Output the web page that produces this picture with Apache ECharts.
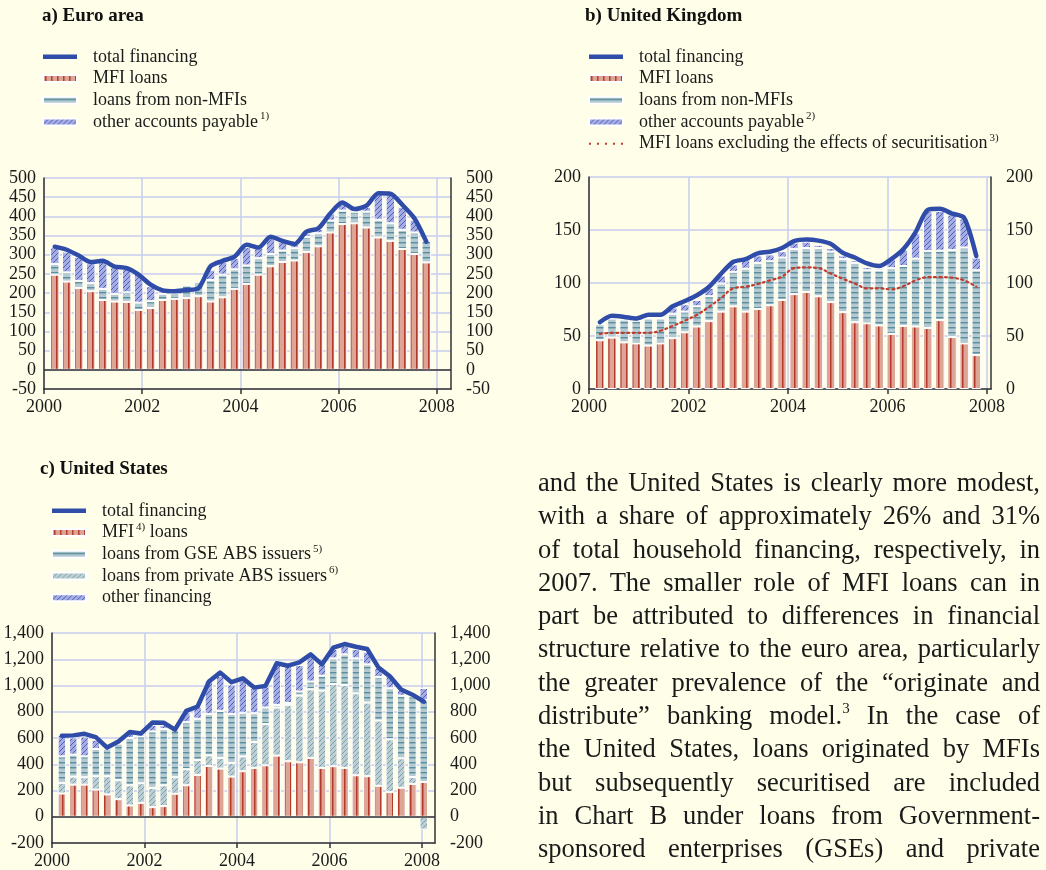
<!DOCTYPE html>
<html>
<head>
<meta charset="utf-8">
<script src="https://cdn.jsdelivr.net/npm/echarts@6/dist/echarts.min.js"></script>
<style>
html,body{margin:0;padding:0;background:#fffee9;overflow:hidden;width:1046px;height:870px;}
#chart{position:absolute;left:0;top:0;width:1046px;height:870px;}
#text{position:absolute;left:538px;top:466px;width:502px;font-family:"Liberation Serif","Times New Roman",serif;font-size:26.5px;line-height:33.3px;color:#1a1a1a;}
#text div{text-align:justify;text-align-last:justify;height:33.3px;overflow:visible;}
#text sup{font-size:15px;line-height:0;vertical-align:11px;}
</style>
</head>
<body>
<div id="chart"></div>
<div id="text">
<div>and the United States is clearly more modest,</div>
<div>with a share of approximately 26% and 31%</div>
<div>of total household financing, respectively, in</div>
<div>2007. The smaller role of MFI loans can in</div>
<div>part be attributed to differences in financial</div>
<div>structure relative to the euro area, particularly</div>
<div>the greater prevalence of the “originate and</div>
<div>distribute” banking model.<sup>3</sup> In the case of</div>
<div>the United States, loans originated by MFIs</div>
<div>but subsequently securitised are included</div>
<div>in Chart B under loans from Government-</div>
<div>sponsored enterprises (GSEs) and private</div>
<div>issuers of asset-backed securities (ABS).</div>
</div>
<script>
// ---------- categories ----------
const quartersAB = [];
for (let y = 2000; y <= 2007; y++) for (let q = 1; q <= 4; q++) quartersAB.push(y + 'Q' + q);
const quartersC = quartersAB.concat(['2008Q1']);
const yearTicks = [2000, 2002, 2004, 2006, 2008];

// ---------- a) Euro area ----------
const euroMFI    = [248,230,213,205,182,178,177,156,161,182,185,187,192,178,189,211,224,248,270,281,285,307,322,358,380,382,371,345,336,315,302,280];
const euroNonMFI = [28,24,19,21,29,20,25,19,18,16,15,33,36,56,59,51,48,43,32,30,32,39,34,31,35,30,41,46,46,50,56,56];
const euroOther  = [43,54,63,52,71,69,61,75,39,7,5,-6,-6,27,34,29,48,28,41,23,11,10,11,19,21,7,13,67,76,60,33,-6];
const euroTotal  = [321,313,298,281,284,269,265,248,222,207,205,208,213,270,284,295,326,319,347,336,328,360,369,408,436,419,428,460,459,430,395,334];

// ---------- b) United Kingdom ----------
const ukMFI     = [46,48.5,44,43,41,43,48,53.5,59,64,73,78,73,75.5,79,84,89.5,91.5,87.5,82,72.5,63,62,60,52,59.5,59,57.5,65,49,43,32];
const ukNonMFI  = [15,18,21.5,21.5,25.5,23.5,23,19.5,19,23.5,26.5,32.5,40.5,43.5,41.5,40,42.5,41.5,45.5,47.5,50,56,50,52,62,56.5,64,72.5,65.5,82,90.5,80];
const ukOther   = [0.5,2.5,1,1,1,1.5,6,7,6,8,7.5,7,9,7,6.5,6,6,6,3,3.5,3.5,2.5,3,2,8.5,15.5,24,38,37.5,33.5,27.5,12];
const ukTotal   = [63,69,68,66.5,70,70,78,83,88.5,96.5,109,120,122.5,128,129.5,133,139.5,141,140,137,128.5,124,118.5,116,122.5,132,148,169,170,165.5,161.5,125.5];
const ukMFIexSec= [52,53,53,53,53,55,59.5,64.5,70,77.5,86,95,96.5,99,102.5,106,114,114.7,114,109,104,99.5,95,95,94,97,102.5,105.5,105.5,105,102.5,96.5];

// ---------- c) United States ----------
const usMFI     = [177,245,245,207,170,134,86,106,73,81,175,240,319,387,367,306,347,372,392,466,423,415,448,372,385,372,316,309,236,188,221,250,265];
const usPrivate = [81,61,56,102,139,144,154,150,147,159,126,122,114,81,81,104,113,197,314,366,430,508,523,589,627,632,625,561,497,402,225,53,-98];
const usGSE     = [202,167,159,207,210,279,360,356,430,428,362,359,313,314,359,372,332,220,126,20,14,31,59,114,195,233,266,291,331,389,476,614,625];
const usOther   = [165,132,152,71,8,10,40,20,50,30,3,80,94,260,265,227,258,190,160,316,296,202,202,86,71,66,71,96,70,100,42,10,91];
const usTotal   = [617,620,632,607,527,574,645,635,718,716,664,807,840,1030,1098,1025,1055,984,997,1169,1151,1176,1237,1161,1288,1316,1295,1278,1136,1070,970,930,878];

// ---------- helpers ----------
const FONT = '"Liberation Serif","Times New Roman",serif';
const T0 = Date.UTC(2000, 0, 1);
const YEAR_MS = 365.25 * 86400000;
function toTime(t) { return T0 + (t - 2000) * YEAR_MS; }
function quarterPos(label) {
  const y = +label.slice(0, 4), q = +label.slice(5);
  return toTime(y + (q - 1) * 0.25 + 0.125);
}
function pair(arr, qs) { return arr.map((v, i) => [quarterPos(qs[i]), v]); }

function makePattern(w, h, base, marks) {
  const c = document.createElement('canvas');
  c.width = w; c.height = h;
  const ctx = c.getContext('2d');
  ctx.fillStyle = base; ctx.fillRect(0, 0, w, h);
  for (let x = 0; x < w; x++) for (let y = 0; y < h; y++) {
    const col = marks(x, y);
    if (col) { ctx.fillStyle = col; ctx.fillRect(x, y, 1, 1); }
  }
  return { image: c, repeat: 'repeat' };
}
const patMFI = makePattern(6, 2, '#dca595', (x) => x === 2 ? '#b3392a' : (x === 3 ? '#c8705f' : null));
const patNon = makePattern(2, 5, '#b5c9d0', (x, y) => y === 2 ? '#5b8e9e' : (y === 3 ? '#8db1bb' : null));
const patOther = makePattern(5, 5, '#a5ade2', (x, y) => ((x + y) % 5 === 0) ? '#4e60b8' : null);
const patPriv = makePattern(5, 5, '#bfced2', (x, y) => ((x + y) % 5 === 0) ? '#76a2ac' : null);

const LINE_BLUE = '#2e4ca8';
const GRID_COL = '#c7ccee';
const AXIS_COL = '#333';

const grids = [
  { left: 44, top: 178, width: 407, height: 211 },
  { left: 589, top: 177, width: 402, height: 212 },
  { left: 52, top: 633, width: 383, height: 210 }
];
const xMax = [2008.29, 2008.08, 2008.28];
const yCfg = [
  { min: -50, max: 500, interval: 50 },
  { min: 0, max: 200, interval: 50 },
  { min: -200, max: 1400, interval: 200 }
];

// per grid: a visible year axis (labels, ticks, grid) and a hidden time axis carrying the series
const xAxes = [];
grids.forEach((g, i) => {
  xAxes.push({
    type: 'value', gridIndex: i, min: 2000, max: xMax[i], interval: 2, position: 'bottom',
    axisLine: { onZero: false, lineStyle: { color: AXIS_COL, width: 1.5 } },
    axisTick: { show: true, length: 5, customValues: yearTicks, lineStyle: { color: AXIS_COL, width: 1.5 } },
    splitLine: { show: true, lineStyle: { color: GRID_COL, width: 1.5 } },
    axisLabel: {
      customValues: yearTicks,
      formatter: v => (Math.abs(v - Math.round(v)) < 1e-6 && Math.round(v) % 2 === 0) ? String(Math.round(v)) : '',
      fontFamily: FONT, fontSize: 18, color: '#1a1a1a', margin: 9
    }
  });
  xAxes.push({
    type: 'time', gridIndex: i, position: 'top', show: false,
    min: toTime(2000), max: toTime(xMax[i])
  });
});
const yAxes = [];
grids.forEach((g, i) => {
  ['left', 'right'].forEach(pos => {
    yAxes.push({
      type: 'value', gridIndex: i, position: pos,
      min: yCfg[i].min, max: yCfg[i].max, interval: yCfg[i].interval,
      axisLine: { show: true, lineStyle: { color: AXIS_COL, width: 1.5 } },
      axisTick: { show: false },
      splitLine: { show: pos === 'left', lineStyle: { color: GRID_COL, width: 1.5 } },
      axisLabel: { fontFamily: FONT, fontSize: 18, color: '#1a1a1a', margin: pos === 'left' ? 8 : 15 }
    });
  });
});

const zeroLine = {
  silent: true, symbol: 'none', label: { show: false },
  lineStyle: { color: AXIS_COL, width: 1.5, type: 'solid' },
  emphasis: { disabled: true },
  data: [{ yAxis: 0 }]
};

function bar(name, arr, qs, gi, pattern, bw, extra) {
  return Object.assign({
    name, type: 'bar', xAxisIndex: gi * 2 + 1, yAxisIndex: gi * 2, stack: 's' + gi,
    data: pair(arr, qs), barWidth: bw,
    itemStyle: { color: pattern, borderColor: '#ffffff', borderWidth: 1 },
    emphasis: { disabled: true }, z: 2
  }, extra || {});
}
function line(name, arr, qs, gi, color, width, smooth, type) {
  return {
    name, type: 'line', xAxisIndex: gi * 2 + 1, yAxisIndex: gi * 2,
    data: pair(arr, qs), showSymbol: false, symbol: 'none', smooth,
    lineStyle: { color, width, type: type || 'solid', cap: 'round', join: 'round' },
    itemStyle: { color }, emphasis: { disabled: true }, z: 5
  };
}

const series = [
  bar('MFI loans', euroMFI, quartersAB, 0, patMFI, 9.5, { markLine: zeroLine }),
  bar('loans from non-MFIs', euroNonMFI, quartersAB, 0, patNon, 9.5),
  bar('other accounts payable', euroOther, quartersAB, 0, patOther, 9.5),
  line('total financing', euroTotal, quartersAB, 0, LINE_BLUE, 4.5, 0.25),

  bar('MFI loans', ukMFI, quartersAB, 1, patMFI, 9.5),
  bar('loans from non-MFIs', ukNonMFI, quartersAB, 1, patNon, 9.5),
  bar('other accounts payable', ukOther, quartersAB, 1, patOther, 9.5),
  line('MFI loans excluding the effects of securitisation', ukMFIexSec, quartersAB, 1, '#c23b2c', 2.2, 0.4, [2, 3.5]),
  line('total financing', ukTotal, quartersAB, 1, LINE_BLUE, 4.5, 0.25),

  bar('MFI loans', usMFI, quartersC, 2, patMFI, 8.5, { markLine: zeroLine }),
  bar('loans from private ABS issuers', usPrivate, quartersC, 2, patPriv, 8.5),
  bar('loans from GSE ABS issuers', usGSE, quartersC, 2, patNon, 8.5),
  bar('other financing', usOther, quartersC, 2, patOther, 8.5),
  line('total financing', usTotal, quartersC, 2, LINE_BLUE, 4.5, false)
];

const LINE_ICON = 'path://M0,0H34V4.5H0Z';
const DOT_ICON = 'path://M0,0h2v2h-2zM8,0h2v2h-2zM16,0h2v2h-2zM24,0h2v2h-2zM32,0h2v2h-2z';
const rich = {
  t0: { fontFamily: FONT, fontSize: 18, color: '#1a1a1a', lineHeight: 21.7, padding: [0, 0, 0, 11] },
  t: { fontFamily: FONT, fontSize: 18, color: '#1a1a1a', lineHeight: 21.7 },
  s: { fontFamily: FONT, fontSize: 11, color: '#1a1a1a', lineHeight: 14, verticalAlign: 'top', padding: [0, 0, 0, 2] }
};
function legend(left, top, items, sups) {
  return {
    orient: 'vertical', left, top, itemWidth: 34, itemHeight: 7, itemGap: 0,
    selectedMode: false, padding: 0,
    data: items,
    textStyle: { fontFamily: FONT, fontSize: 18, color: '#1a1a1a', lineHeight: 21.7, rich },
    formatter: function (name) {
      if (name === 'MFI loans' && sups.mfi) return '{t0|MFI}{s|' + sups.mfi + '}{t| loans}';
      if (sups[name]) return '{t0|' + name + '}{s|' + sups[name] + '}';
      return '{t0|' + name + '}';
    }
  };
}

const titleStyle = { fontFamily: FONT, fontSize: 19, fontWeight: 'bold', color: '#111' };
const option = {
  backgroundColor: '#fffee9',
  animation: false,
  title: [
    { text: 'a) Euro area', left: 42, top: 7, padding: 0, textStyle: titleStyle },
    { text: 'b) United Kingdom', left: 585, top: 7, padding: 0, textStyle: titleStyle },
    { text: 'c) United States', left: 40, top: 460, padding: 0, textStyle: titleStyle }
  ],
  legend: [
    legend(42, 46, [
      { name: 'total financing', icon: LINE_ICON },
      { name: 'MFI loans', icon: 'rect' },
      { name: 'loans from non-MFIs', icon: 'rect' },
      { name: 'other accounts payable', icon: 'rect' }
    ], { 'other accounts payable': '1)' }),
    legend(588, 46, [
      { name: 'total financing', icon: LINE_ICON },
      { name: 'MFI loans', icon: 'rect' },
      { name: 'loans from non-MFIs', icon: 'rect' },
      { name: 'other accounts payable', icon: 'rect' },
      { name: 'MFI loans excluding the effects of securitisation', icon: DOT_ICON }
    ], { 'other accounts payable': '2)', 'MFI loans excluding the effects of securitisation': '3)' }),
    legend(51, 500, [
      { name: 'total financing', icon: LINE_ICON },
      { name: 'MFI loans', icon: 'rect' },
      { name: 'loans from GSE ABS issuers', icon: 'rect' },
      { name: 'loans from private ABS issuers', icon: 'rect' },
      { name: 'other financing', icon: 'rect' }
    ], { mfi: '4)', 'loans from GSE ABS issuers': '5)', 'loans from private ABS issuers': '6)' })
  ],
  grid: grids,
  xAxis: xAxes,
  yAxis: yAxes,
  series
};

const chart = echarts.init(document.getElementById('chart'), null, { renderer: 'canvas' });
chart.setOption(option);
</script>
</body>
</html>
